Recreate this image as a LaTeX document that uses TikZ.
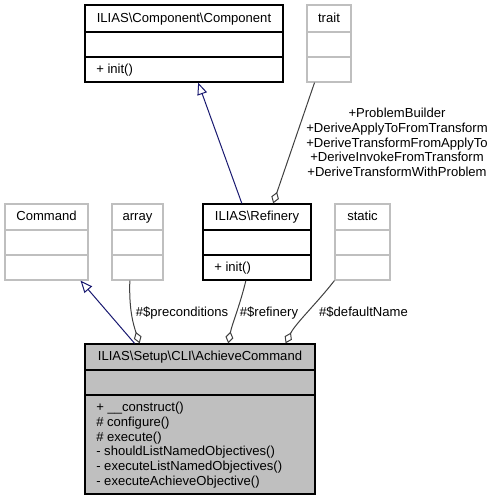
\documentclass[tikz,border=0pt]{standalone}
\usepackage{fontspec}
\setmainfont{Liberation Sans}
\usetikzlibrary{arrows.meta,fit,calc}
\definecolor{navy}{HTML}{191970}
\definecolor{edgegray}{HTML}{404040}
\definecolor{lightborder}{HTML}{BFBFBF}
\definecolor{achfill}{HTML}{BFBFBF}
\begin{document}
\begin{tikzpicture}[x=0.75pt,y=-0.75pt,
  blackbox/.style={draw=black,line width=1pt,inner sep=0pt},
  graybox/.style={draw=lightborder,line width=0.9pt,inner sep=0pt},
  achbox/.style={draw=black,fill=achfill,line width=1pt,inner sep=0pt},
  txt/.style={font=\fontsize{9.8}{11}\selectfont,inner sep=0pt},
  inh/.style={draw=navy,line width=0.75pt,-{Triangle[open,length=9pt,width=7.5pt]}},
  comp/.style={draw=edgegray,line width=0.75pt,-{Diamond[open,length=9pt,width=6pt]}},
  lbl/.style={txt,align=center}]
\useasboundingbox (0,0) rectangle (495,500);

% ILIAS\Component\Component
\node[blackbox,fit={(85,5) (283,82)}] (cmp) {};
\draw[black,line width=1pt] (85,32) -- (283,32) (85,57) -- (283,57);
\node[txt,anchor=base] (cmpt) at (184,22) {ILIAS\textbackslash Component\textbackslash Component};
\node[txt,anchor=base west] (cmpm) at (96,73.5) {+ init()};

% trait
\node[graybox,fit={(307,5) (351,82)}] (trait) {};
\draw[lightborder,line width=0.9pt] (307,32) -- (351,32) (307,57) -- (351,57);
\node[txt,anchor=base] (traitt) at (329,22) {trait};

% Command
\node[graybox,fit={(5,204) (88,280)}] (cmd) {};
\draw[lightborder,line width=0.9pt] (5,230) -- (88,230) (5,255) -- (88,255);
\node[txt,anchor=base] (cmdt) at (46.5,220.5) {Command};

% array
\node[graybox,fit={(112,204) (163,280)}] (arr) {};
\draw[lightborder,line width=0.9pt] (112,230) -- (163,230) (112,255) -- (163,255);
\node[txt,anchor=base] (arrt) at (137.5,220.5) {array};

% ILIAS\Refinery
\node[blackbox,fit={(203,204) (311,280)}] (ref) {};
\draw[black,line width=1pt] (203,230) -- (311,230) (203,255) -- (311,255);
\node[txt,anchor=base] (reft) at (257,220.5) {ILIAS\textbackslash Refinery};
\node[txt,anchor=base west] (refm) at (214,271.5) {+ init()};

% static
\node[graybox,fit={(335,204) (390,280)}] (stat) {};
\draw[lightborder,line width=0.9pt] (335,230) -- (390,230) (335,255) -- (390,255);
\node[txt,anchor=base] (statt) at (362.5,220.5) {static};

% ILIAS\Setup\CLI\AchieveCommand
\node[achbox,fit={(85,344) (315,494)}] (ach) {};
\draw[black,line width=1pt] (85,370) -- (315,370) (85,395) -- (315,395);
\node[txt,anchor=base] (acht) at (200,360.5) {ILIAS\textbackslash Setup\textbackslash CLI\textbackslash AchieveCommand};
\node[txt,anchor=base west] (m1) at (96,411.5) {+ \_\_construct()};
\node[txt,anchor=base west] (m2) at (96,426.3) {\# configure()};
\node[txt,anchor=base west] (m3) at (96,441.1) {\# execute()};
\node[txt,anchor=base west] (m4) at (96,455.9) {- shouldListNamedObjectives()};
\node[txt,anchor=base west] (m5) at (96,470.7) {- executeListNamedObjectives()};
\node[txt,anchor=base west] (m6) at (96,485.5) {- executeAchieveObjective()};

% Connectors
\draw[inh] ($(ref.north west)!0.361!(ref.north east)$) -- ($(cmp.south west)!0.571!(cmp.south east)$);
\draw[comp] ($(trait.south west)!0.18!(trait.south east)$) -- ($(ref.north west)!0.648!(ref.north east)$);
\node[lbl] (traitlbl) at (397,142.5) {+ProblemBuilder\\+DeriveApplyToFromTransform\\+DeriveTransformFromApplyTo\\+DeriveInvokeFromTransform\\+DeriveTransformWithProblem};

\draw[inh] ($(ach.north west)!0.217!(ach.north east)$) -- ($(cmd.south west)!0.904!(cmd.south east)$);
\draw[comp] ($(arr.south west)!0.353!(arr.south east)$) .. controls +(-1,30) and +(-6,-18) .. ($(ach.north west)!0.239!(ach.north east)$);
\draw[comp] ($(ref.south west)!0.398!(ref.south east)$) .. controls +(-6,25) and +(4,-20) .. ($(ach.north west)!0.622!(ach.north east)$);
\draw[comp] (stat.south west) .. controls +(-17,22) and +(10,-20) .. ($(ach.north west)!0.870!(ach.north east)$);

\node[txt,anchor=base] (l1) at (182,316.5) {\#\$preconditions};
\node[txt,anchor=base] (l2) at (269,316.5) {\#\$refinery};
\node[txt,anchor=base] (l3) at (363.5,316.5) {\#\$defaultName};
\end{tikzpicture}
\end{document}
